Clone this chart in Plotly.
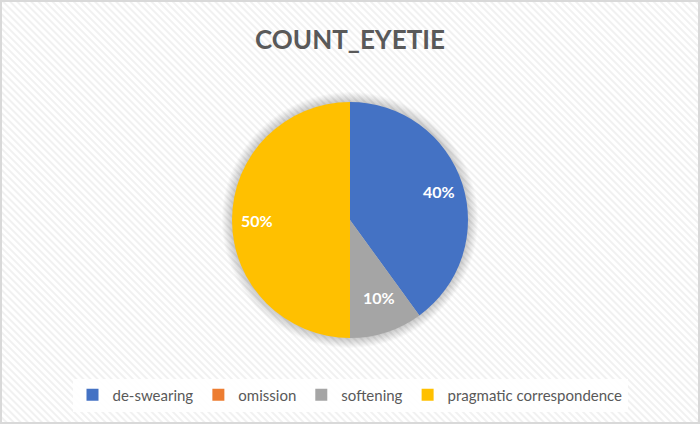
import base64
import math
import plotly.graph_objects as go

# ---- data ----
categories = ["de-swearing", "omission", "softening", "pragmatic correspondence"]
values = [4, 0, 1, 5]
colors = ["#4472C4", "#ED7D31", "#A5A5A5", "#FFC000"]
title_text = "COUNT_EYETIE"

W, H = 700, 424
total = sum(values)

# pie placement (pixels)
cx, cy, r = 350, 220, 118
dom_x = [(cx - r) / W, (cx + r) / W]
dom_y = [(H - cy - r) / H, (H - cy + r) / H]

# hatched background as svg pattern
svg = (
    f"<svg xmlns='http://www.w3.org/2000/svg' width='{W}' height='{H}'>"
    "<defs><pattern id='p' width='5' height='5' patternUnits='userSpaceOnUse' "
    "patternTransform='rotate(-45)'>"
    "<rect width='5' height='5' fill='#ffffff'/>"
    "<rect width='2' height='5' fill='#f1f1f1'/></pattern></defs>"
    f"<rect width='{W}' height='{H}' fill='url(#p)'/></svg>"
)
bg_src = "data:image/svg+xml;base64," + base64.b64encode(svg.encode()).decode()

fig = go.Figure(
    go.Pie(
        labels=categories,
        values=values,
        textinfo="none",
        marker=dict(colors=colors, line=dict(width=0)),
        sort=False,
        direction="clockwise",
        rotation=0,
        domain=dict(x=dom_x, y=dom_y),
        hoverinfo="label+percent",
    )
)

# data labels placed at slice mid-angles (Excel style)
annotations = []
cum = 0
for v in values:
    if v:
        a = 2 * math.pi * (cum + v / 2) / total
        rl = 0.79 * r
        annotations.append(dict(
            x=(cx + rl * math.sin(a)) / W, y=(H - cy + rl * math.cos(a)) / H,
            xref="paper", yref="paper", showarrow=False,
            text=f"{v / total:.0%}",
            font=dict(family="Lato", size=16, color="white", weight="bold"),
        ))
    cum += v

shapes = []
# soft shadow around pie
for i in range(1, 11):
    rr = r + i
    shapes.append(dict(
        type="circle", xref="paper", yref="paper", layer="below",
        x0=(cx - rr) / W, x1=(cx + rr) / W,
        y0=(H - cy - rr) / H, y1=(H - cy + rr) / H,
        fillcolor="rgba(0,0,0,0.018)", line=dict(width=0),
    ))
# chart border
shapes.append(dict(
    type="rect", xref="paper", yref="paper", layer="above",
    x0=1 / W, x1=1 - 1 / W, y0=1 / H, y1=1 - 1 / H,
    line=dict(color="#d9d9d9", width=2), fillcolor="rgba(0,0,0,0)",
))

fig.update_layout(
    width=W, height=H,
    margin=dict(l=0, r=0, t=0, b=0),
    paper_bgcolor="white",
    title=dict(
        text=title_text, x=0.5, xanchor="center",
        y=1 - 40 / H, yanchor="middle", yref="container",
        font=dict(family="Lato", size=26, color="#595959", weight="bold"),
    ),
    legend=dict(
        orientation="h", x=0.5, xanchor="center", y=(H - 395) / H, yanchor="middle",
        bgcolor="rgba(255,255,255,0.9)", font=dict(family="Lato", size=15, color="#595959"),
        itemwidth=30, traceorder="normal",
    ),
    images=[dict(source=bg_src, xref="paper", yref="paper", x=0, y=1, sizex=1, sizey=1,
                 sizing="stretch", layer="below", xanchor="left", yanchor="top")],
    shapes=shapes,
    annotations=annotations,
)

fig.write_html(
    "out.html",
    config={"displayModeBar": False},
    post_script="document.body.style.margin='0';document.body.style.overflow='hidden';",
)
